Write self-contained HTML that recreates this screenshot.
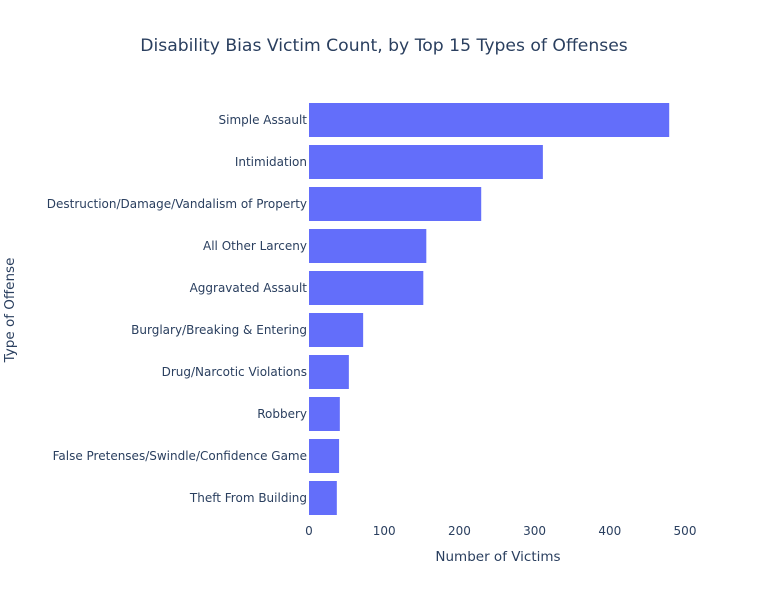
<!DOCTYPE html>
<html><head><meta charset="utf-8"><style>
body{margin:0;background:#fff;font-family:"DejaVu Sans","Liberation Sans",sans-serif;}
svg text{font-family:"DejaVu Sans","Liberation Sans",sans-serif;fill:#2a3f5f;}
</style></head><body>
<svg id="chart" width="768" height="600">
<text x="384" y="51" text-anchor="middle" font-size="17.2">Disability Bias Victim Count, by Top 15 Types of Offenses</text>
<text x="498" y="561" text-anchor="middle" font-size="13.5">Number of Victims</text>
<text x="0" y="0" transform="translate(14,310) rotate(-90)" text-anchor="middle" font-size="13.5">Type of Offense</text>
<g id="bars"></g><g id="xticks"></g><g id="ylabels"></g>
</svg>
<script>
const categories=["Simple Assault","Intimidation","Destruction/Damage/Vandalism of Property","All Other Larceny","Aggravated Assault","Burglary/Breaking & Entering","Drug/Narcotic Violations","Robbery","False Pretenses/Swindle/Confidence Game","Theft From Building"];
const values=[479,311,229,156,152,72,53,41,40,37];
const xTicks=[0,100,200,300,400,500];
const x0=309,x1=685,plotTop=99,step=42,barH=34;
const xs=v=>x0+(x1-x0)*v/500;
const ys=i=>plotTop+step*i+step/2;
const ns="http://www.w3.org/2000/svg";
const gb=document.getElementById('bars'),gx=document.getElementById('xticks'),gy=document.getElementById('ylabels');
categories.forEach((c,i)=>{
 const r=document.createElementNS(ns,'rect');
 r.setAttribute('x',xs(0));r.setAttribute('y',ys(i)-barH/2);
 r.setAttribute('width',xs(values[i])-xs(0));r.setAttribute('height',barH);
 r.setAttribute('fill','#636efa');
 
 
 gb.appendChild(r);
 const t=document.createElementNS(ns,'text');
 t.setAttribute('x',x0-2);t.setAttribute('y',ys(i)+4);
 t.setAttribute('text-anchor','end');t.setAttribute('font-size','12');
 t.textContent=c;
 
 
 gy.appendChild(t);
});
xTicks.forEach(v=>{
 const t=document.createElementNS(ns,'text');
 t.setAttribute('x',xs(v));t.setAttribute('y',535);
 t.setAttribute('text-anchor','middle');t.setAttribute('font-size','12');
 t.textContent=v;
 
 
 gx.appendChild(t);
});
</script>
</body></html>
